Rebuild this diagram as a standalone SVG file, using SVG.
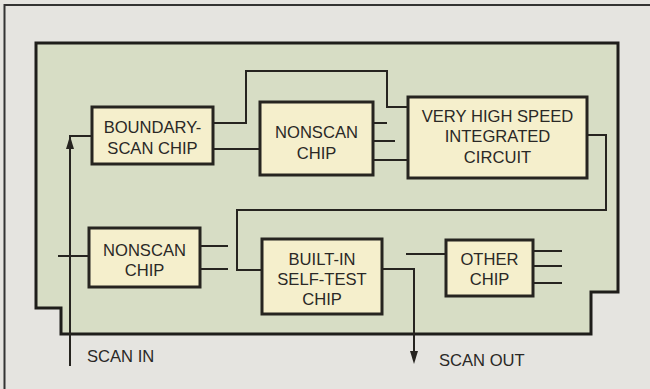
<svg xmlns="http://www.w3.org/2000/svg" width="650" height="389" viewBox="0 0 650 389">
<style>
.box{fill:#f5efcc;stroke:#262420;stroke-width:3}
.wire{fill:none;stroke:#262420;stroke-width:2}
.lbl{font-family:"Liberation Sans",Arial,sans-serif;font-size:16.6px;fill:#2a2826;text-anchor:middle}
.cap{font-family:"Liberation Sans",Arial,sans-serif;font-size:16.6px;fill:#2a2826}
.arr{fill:#262420}
</style>
<rect x="0" y="0" width="650" height="389" fill="#e5e4e0"/>
<path d="M4.5 389 V5 H650" fill="none" stroke="#333" stroke-width="2"/>
<g id="board">
<path d="M36 43 H618 V292 H591 V334 H61 V308 H36 Z" fill="#d7ddc5" stroke="#1e1d1a" stroke-width="3"/>
</g>
<g id="connectors">
<path class="wire" d="M70 366 V136 H92"/>
<path class="arr" d="M70 136 L74 149 H66 Z"/>
<path class="wire" d="M213 123 H246 V71 H387 V107 H408"/>
<path class="wire" d="M213 149 H260"/>
<path class="wire" d="M373 123 H387"/>
<path class="wire" d="M373 141 H395"/>
<path class="wire" d="M373 160 H408"/>
<path class="wire" d="M587 135 H606 V210 H237 V270 H262"/>
<path class="wire" d="M58 256 H89"/>
<path class="wire" d="M200 246 H228"/>
<path class="wire" d="M200 269 H228"/>
<path class="wire" d="M382 269 H414 V355"/>
<path class="arr" d="M414 364 L418 351 H410 Z"/>
<path class="wire" d="M406 254 H446"/>
<path class="wire" d="M533 251 H562"/>
<path class="wire" d="M533 266 H562"/>
<path class="wire" d="M533 283 H562"/>
</g>
<g id="boundary-scan-chip">
<rect class="box" x="92" y="107" width="121" height="57"/>
<text class="lbl" x="152.5" y="133">BOUNDARY-</text>
<text class="lbl" x="152.5" y="154">SCAN CHIP</text>
</g>
<g id="nonscan-chip-top">
<rect class="box" x="260" y="102" width="113" height="73"/>
<text class="lbl" x="316.5" y="138">NONSCAN</text>
<text class="lbl" x="316.5" y="159">CHIP</text>
</g>
<g id="vhsic">
<rect class="box" x="408" y="97" width="179" height="81"/>
<text class="lbl" x="497.5" y="122">VERY HIGH SPEED</text>
<text class="lbl" x="497.5" y="142">INTEGRATED</text>
<text class="lbl" x="497.5" y="163">CIRCUIT</text>
</g>
<g id="nonscan-chip-bottom">
<rect class="box" x="89" y="228" width="111" height="59"/>
<text class="lbl" x="144.5" y="256">NONSCAN</text>
<text class="lbl" x="144.5" y="276">CHIP</text>
</g>
<g id="bist-chip">
<rect class="box" x="262" y="239" width="120" height="75"/>
<text class="lbl" x="322" y="265">BUILT-IN</text>
<text class="lbl" x="322" y="285">SELF-TEST</text>
<text class="lbl" x="322" y="305">CHIP</text>
</g>
<g id="other-chip">
<rect class="box" x="446" y="240" width="87" height="56"/>
<text class="lbl" x="489.5" y="265">OTHER</text>
<text class="lbl" x="489.5" y="285">CHIP</text>
</g>
<g id="labels">
<text class="cap" x="87" y="362">SCAN IN</text>
<text class="cap" x="439" y="366">SCAN OUT</text>
</g>
</svg>
